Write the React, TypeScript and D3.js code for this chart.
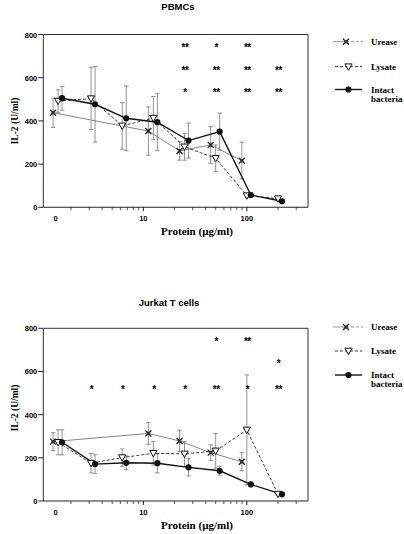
import React from "react";
import * as d3 from "d3";

// ---------- data ----------
const doses = [0, 3.125, 6.25, 12.5, 25, 50, 100, 200];
const zeroDosePosition = 1.5; // where the "0" dose is drawn on the log axis
const yTicks = [0, 200, 400, 600, 800];
const xMajorTicks = [10, 100];
const xMinorTicks = [2, 3, 4, 5, 6, 7, 8, 9, 20, 30, 40, 50, 60, 70, 80, 90, 200, 300];
const seriesNames = ["Urease", "Lysate", "Intact bacteria"];

// PBMCs
const pbmcUrease = [438, null, null, 353, 261, 289, 216, null];
const pbmcUreaseErr = [68, null, null, 112, 43, 85, 85, null];
const pbmcLysate = [492, 503, 377, 413, 280, 227, 54, 40];
const pbmcLysateErr = [52, 143, 108, 100, 62, 62, 8, 5];
const pbmcIntact = [505, 477, 412, 394, 309, 350, 57, 28];
const pbmcIntactErr = [55, 175, 150, 132, 81, 86, 8, 5];
const pbmcStarDoses = [25, 50, 100, 200];
const pbmcStarRows = [
  { level: 747, marks: ["**", "*", "**", ""] },
  { level: 639, marks: ["**", "**", "**", "**"] },
  { level: 539, marks: ["*", "**", "**", "**"] },
];

// Jurkat T cells
const jurkatUrease = [275, null, null, 313, 278, 224, 182, null];
const jurkatUreaseErr = [42, null, null, 50, 50, 36, 42, null];
const jurkatLysate = [272, 175, 201, 221, 218, 232, 329, 32];
const jurkatLysateErr = [58, 45, 40, 55, 58, 80, 255, 5];
const jurkatIntact = [272, 171, 177, 175, 156, 140, 77, 31];
const jurkatIntactErr = [58, 43, 32, 45, 40, 20, 8, 5];
const jurkatStarDoses = [3.125, 6.25, 12.5, 25, 50, 100, 200];
const jurkatStarRows = [
  { level: 745, marks: ["", "", "", "", "*", "**", ""] },
  { level: 645, marks: ["", "", "", "", "", "", "*"] },
  { level: 525, marks: ["*", "*", "*", "*", "**", "*", "**"] },
];

// ---------- layout ----------
const W = 404;
const H = 534;
const X0 = 43.3;
const X1 = 308;
const sansFont = "'Liberation Sans', Arial, sans-serif";
const serifFont = "'Liberation Serif', 'Times New Roman', serif";
const seriesOffsets = [-5, 0, 4];

const xScale = d3.scaleLog().domain([1.08, 390]).range([X0, X1]);
const xPos = (dose: number, i: number) =>
  xScale(dose === 0 ? zeroDosePosition : dose) + seriesOffsets[i];

function Marker({ kind, x, y }: { kind: number; x: number; y: number }) {
  if (kind === 0) {
    return (
      <g transform={`translate(${x},${y})`}>
        <path d="M-3,-3L3,3M-3,3L3,-3" fill="none" stroke="#222" strokeWidth={1.3} />
        <rect x={-1.6} y={-1.6} width={3.2} height={3.2} fill="#333" />
      </g>
    );
  }
  if (kind === 1) {
    return (
      <path
        transform={`translate(${x},${y})`}
        d="M-3.6,-2.8L3.6,-2.8L0,3.6Z"
        fill="#fff"
        stroke="#111"
        strokeWidth={1}
      />
    );
  }
  return <circle cx={x} cy={y} r={3.1} fill="#111" />;
}

const lineStyles = [
  { stroke: "#777", width: 0.9, dash: undefined as string | undefined },
  { stroke: "#222", width: 0.9, dash: "3,2" },
  { stroke: "#111", width: 1.4, dash: undefined as string | undefined },
];

type PanelProps = {
  title: string;
  titleX: number;
  titleY: number;
  top: number;
  bottom: number;
  ylabelY: number;
  values: (number | null)[][];
  errors: (number | null)[][];
  starDoses: number[];
  starRows: { level: number; marks: string[] }[];
  legendYs: number[];
};

function Panel(p: PanelProps) {
  const y = d3.scaleLinear().domain([0, 800]).range([p.bottom, p.top]);
  const line = d3
    .line<{ d: number; v: number }>()
    .x((d) => d.d)
    .y((d) => y(d.v));

  const pts = p.values.map((vals, si) =>
    doses
      .map((dose, k) => ({ dose, v: vals[k], e: p.errors[si][k] }))
      .filter((o) => o.v != null)
      .map((o) => ({ x: xPos(o.dose, si), v: o.v as number, e: (o.e ?? 0) as number }))
  );

  return (
    <g>
      <text x={p.titleX} y={p.titleY} textAnchor="middle" fontFamily={sansFont} fontWeight="bold" fontSize={9.5}>
        {p.title}
      </text>
      {/* frame */}
      <path
        d={`M${X0},${p.bottom}L${X0},${p.top}L${X1},${p.top}L${X1},${p.bottom}`}
        fill="none"
        stroke="#333"
        strokeWidth={1}
      />
      <line x1={X0} x2={X1} y1={p.bottom} y2={p.bottom} stroke="#222" strokeWidth={1.1} />
      {/* y ticks */}
      {yTicks.map((t) => (
        <g key={t}>
          <line x1={X0 - 5} x2={X0} y1={y(t)} y2={y(t)} stroke="#222" strokeWidth={1} />
          <text x={X0 - 6} y={y(t) + 3} textAnchor="end" fontFamily={sansFont} fontWeight="bold" fontSize={7.5}>
            {t}
          </text>
        </g>
      ))}
      {/* x ticks */}
      {xMinorTicks.map((t) => (
        <line key={t} x1={xScale(t)} x2={xScale(t)} y1={p.bottom} y2={p.bottom + 3} stroke="#333" strokeWidth={0.8} />
      ))}
      {xMajorTicks.map((t) => (
        <line key={t} x1={xScale(t)} x2={xScale(t)} y1={p.bottom} y2={p.bottom + 4} stroke="#222" strokeWidth={1} />
      ))}
      {[
        { label: "0", x: xScale(zeroDosePosition) - 2.5 },
        ...xMajorTicks.map((t) => ({ label: String(t), x: xScale(t) })),
      ].map((o) => (
        <text key={o.label} x={o.x} y={p.bottom + 14} textAnchor="middle" fontFamily={sansFont} fontWeight="bold" fontSize={7.5}>
          {o.label}
        </text>
      ))}
      <text x={197} y={p.bottom + 28} textAnchor="middle" fontFamily={serifFont} fontWeight="bold" fontSize={11}>
        Protein (µg/ml)
      </text>
      <text
        transform={`translate(18,${p.ylabelY}) rotate(-90)`}
        textAnchor="middle"
        fontFamily={serifFont}
        fontWeight="bold"
        fontSize={9.5}
      >
        IL-2 (U/ml)
      </text>
      {/* error bars */}
      {pts.map((sp, si) =>
        sp.map((o, k) =>
          o.e > 0 ? (
            <g key={`${si}-${k}`} stroke="#777" strokeWidth={0.8}>
              <line x1={o.x} x2={o.x} y1={y(o.v - o.e)} y2={y(o.v + o.e)} />
              <line x1={o.x - 2.2} x2={o.x + 2.2} y1={y(o.v + o.e)} y2={y(o.v + o.e)} />
              <line x1={o.x - 2.2} x2={o.x + 2.2} y1={y(o.v - o.e)} y2={y(o.v - o.e)} />
            </g>
          ) : null
        )
      )}
      {/* lines */}
      {pts.map((sp, si) => (
        <path
          key={si}
          d={line(sp.map((o) => ({ d: o.x, v: o.v }))) || ""}
          fill="none"
          stroke={lineStyles[si].stroke}
          strokeWidth={lineStyles[si].width}
          strokeDasharray={lineStyles[si].dash}
        />
      ))}
      {/* markers */}
      {pts.map((sp, si) => sp.map((o, k) => <Marker key={`${si}-${k}`} kind={si} x={o.x} y={y(o.v)} />))}
      {/* significance stars */}
      {p.starRows.map((row, ri) =>
        row.marks.map((m, k) =>
          m ? (
            <text
              key={`${ri}-${k}`}
              x={xScale(p.starDoses[k]) + 0.5}
              y={y(row.level) + 5}
              textAnchor="middle"
              fontFamily={sansFont}
              fontWeight="bold"
              fontSize={10}
              letterSpacing={-0.5}
            >
              {m}
            </text>
          ) : null
        )
      )}
      {/* legend */}
      {seriesNames.map((name, si) => {
        const ly = p.legendYs[si];
        const words = name === "Intact bacteria" ? ["Intact", "bacteria"] : [name];
        return (
          <g key={name}>
            {si === 0 ? (
              <g>
                <line x1={333} x2={346} y1={ly} y2={ly} stroke="#888" strokeWidth={0.9} />
                <line x1={346} x2={363} y1={ly} y2={ly} stroke="#888" strokeWidth={0.9} strokeDasharray="3,2" />
              </g>
            ) : (
              <line
                x1={335}
                x2={362}
                y1={ly}
                y2={ly}
                stroke={lineStyles[si].stroke}
                strokeWidth={lineStyles[si].width}
                strokeDasharray={lineStyles[si].dash}
              />
            )}
            <Marker kind={si} x={si === 0 ? 346 : 348.5} y={ly} />
            {words.map((w, wi) => (
              <text key={w} x={371} y={ly + 3 + wi * 9} fontFamily={serifFont} fontWeight="bold" fontSize={9}>
                {w}
              </text>
            ))}
          </g>
        );
      })}
    </g>
  );
}

export default function App() {
  return (
    <svg
      width={W}
      height={H}
      viewBox={`0 0 ${W} ${H}`}
      style={{ position: "absolute", left: 0, top: 0, background: "#fff" }}
    >
      <rect width={W} height={H} fill="#fff" />
      <Panel
        title="PBMCs"
        titleX={178}
        titleY={10}
        top={34.5}
        bottom={207.3}
        ylabelY={121}
        values={[pbmcUrease, pbmcLysate, pbmcIntact]}
        errors={[pbmcUreaseErr, pbmcLysateErr, pbmcIntactErr]}
        starDoses={pbmcStarDoses}
        starRows={pbmcStarRows}
        legendYs={[41.7, 66.7, 89.5]}
      />
      <Panel
        title="Jurkat T cells"
        titleX={169}
        titleY={306}
        top={328.3}
        bottom={501}
        ylabelY={408}
        values={[jurkatUrease, jurkatLysate, jurkatIntact]}
        errors={[jurkatUreaseErr, jurkatLysateErr, jurkatIntactErr]}
        starDoses={jurkatStarDoses}
        starRows={jurkatStarRows}
        legendYs={[327, 351, 375]}
      />
    </svg>
  );
}
